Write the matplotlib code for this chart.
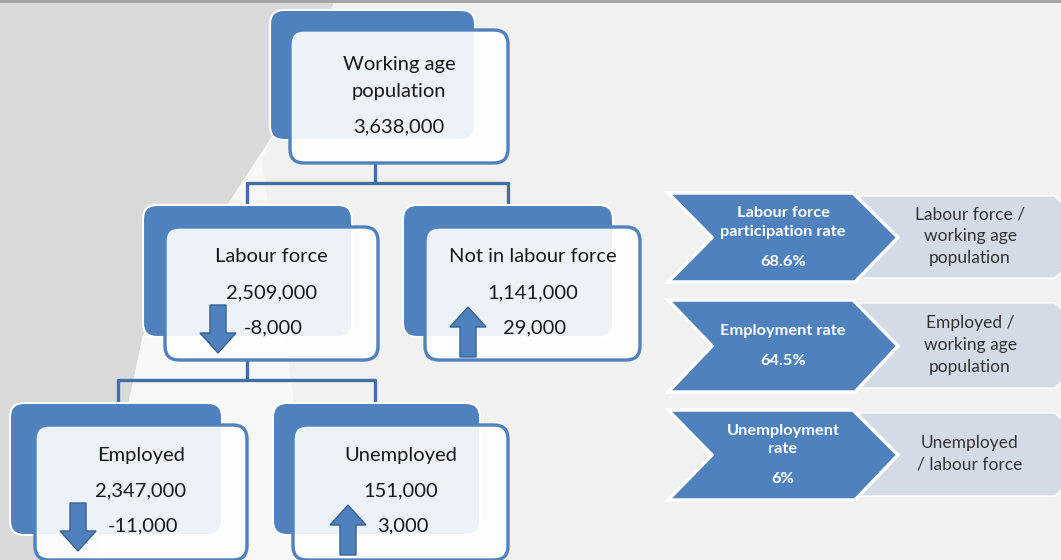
import matplotlib
matplotlib.use("Agg")
import matplotlib.pyplot as plt
from matplotlib.patches import FancyBboxPatch, Polygon, FancyArrow

plt.rcParams['font.family'] = ['Lato', 'DejaVu Sans']

# data
node_names = ["Working age\npopulation", "Labour force", "Not in labour force",
              "Employed", "Unemployed"]
node_totals = [3638000, 2509000, 1141000, 2347000, 151000]
node_changes = [None, -8000, 29000, -11000, 3000]

rate_names = ["Labour force\nparticipation rate", "Employment rate", "Unemployment\nrate"]
rate_values = [68.6, 64.5, 6]
rate_formulas = ["Labour force /\nworking age\npopulation",
                 "Employed /\nworking age\npopulation",
                 "Unemployed\n/ labour force"]

# layout (pixels, y down)
back_boxes = [(270, 10, 205, 130), (143, 205, 209, 132), (403, 205, 210, 132),
              (10, 403, 212, 132), (273, 403, 207, 132)]
front_boxes = [(290, 30, 218, 133), (165, 227, 213, 133), (425, 227, 215, 133),
               (35, 425, 212, 135), (293, 425, 215, 135)]
arrow_x = [None, 218, 468, 78, 348]
row_top = [193, 300, 410]
row_bot = [282, 392, 500]

BLUE = "#4f81bd"
LINE = "#3f6fa6"
TXT = "#1a1a1a"

fig = plt.figure(figsize=(10.61, 5.60), dpi=100)
ax = fig.add_axes([0, 0, 1, 1])
ax.set_xlim(0, 1061)
ax.set_ylim(560, 0)
ax.axis("off")
fig.patch.set_facecolor("#f1f1f1")

# background shapes
ax.add_patch(Polygon([(0, 0), (335, 0), (276, 130), (143, 335), (95, 560), (0, 560)],
                     closed=True, facecolor="#d9d9d9", edgecolor="none", zorder=0))
ax.add_patch(Polygon([(276, 130), (143, 335), (95, 560), (315, 560), (262, 160)],
                     closed=True, facecolor="#f8f8f8", edgecolor="none", zorder=0))
ax.plot([0, 1061], [1, 1], color="#a0a0a0", lw=2, zorder=1)

# connectors
def link(xs, ys):
    ax.plot(xs, ys, color=LINE, lw=2.4, zorder=1, solid_capstyle="butt")

link([375, 375], [163, 183])
link([247, 247, 508, 508], [205, 183, 183, 205])
link([247, 247], [360, 380])
link([118, 118, 375, 375], [403, 380, 380, 403])

for i, name in enumerate(node_names):
    bx, by, bw, bh = back_boxes[i]
    ax.add_patch(FancyBboxPatch((bx, by), bw, bh, boxstyle="round,pad=0,rounding_size=14",
                                facecolor=BLUE, edgecolor="white", lw=1.5, zorder=2))
    fx, fy, fw, fh = front_boxes[i]
    ax.add_patch(FancyBboxPatch((fx, fy), fw, fh, boxstyle="round,pad=0,rounding_size=14",
                                facecolor=(1, 1, 1, 0.9), edgecolor=BLUE, lw=2.4, zorder=3))
    cx = fx + fw / 2
    if i == 0:
        ax.text(cx, 78, name, ha="center", va="center", fontsize=14.5, color=TXT,
                linespacing=1.65, zorder=5)
        ax.text(cx, 127, f"{node_totals[i]:,}", ha="center", va="center",
                fontsize=14.5, color=TXT, zorder=5)
        continue
    ax.text(cx, fy + 30, name, ha="center", va="center", fontsize=14.5, color=TXT, zorder=5)
    ax.text(cx, fy + 66, f"{node_totals[i]:,}", ha="center", va="center",
            fontsize=14.5, color=TXT, zorder=5)
    ax.text(cx + 2, fy + 101, f"{node_changes[i]:,}", ha="center", va="center",
            fontsize=14.5, color=TXT, zorder=5)
    # change arrow
    if node_changes[i] < 0:
        y0, dy = fy + 78, 48
    else:
        y0, dy = fy + 130, -50
    ax.add_patch(FancyArrow(arrow_x[i], y0, 0, dy, width=16, head_width=36,
                            head_length=20, length_includes_head=True,
                            facecolor=BLUE, edgecolor="#386192", lw=1, zorder=4))

# rate chevrons
for j, rname in enumerate(rate_names):
    t, b = row_top[j], row_bot[j]
    m = (t + b) / 2
    lt, lb = t + 3, b - 4
    light = [(860, lt), (1055, lt), (1055 + (m - lt), m), (1055, lb), (860, lb)]
    ax.add_patch(Polygon(light, closed=True, facecolor="#d3dbe6", edgecolor="white",
                         lw=1, zorder=2))
    dark = [(668, t), (853, t), (898, m), (855, b), (668, b), (712, m)]
    ax.add_patch(Polygon(dark, closed=True, facecolor=BLUE, edgecolor="white",
                         lw=2.5, joinstyle="miter", zorder=3))
    vtxt = f"{rate_values[j]:g}%"
    if "\n" in rname:
        ax.text(783, m - 15, rname, ha="center", va="center", fontsize=11.8,
                fontweight="bold", color="white", linespacing=1.4, zorder=5)
        ax.text(783, m + 24, vtxt, ha="center", va="center", fontsize=11.8,
                fontweight="bold", color="white", zorder=5)
    else:
        ax.text(783, m - 15, rname, ha="center", va="center", fontsize=11.8,
                fontweight="bold", color="white", zorder=5)
        ax.text(783, m + 15, vtxt, ha="center", va="center", fontsize=11.8,
                fontweight="bold", color="white", zorder=5)
    ax.text(970, m - 1, rate_formulas[j], ha="center", va="center", fontsize=12.5,
            color="#333333", linespacing=1.45, zorder=5)

fig.savefig("out.png", dpi=100, facecolor=fig.get_facecolor())
